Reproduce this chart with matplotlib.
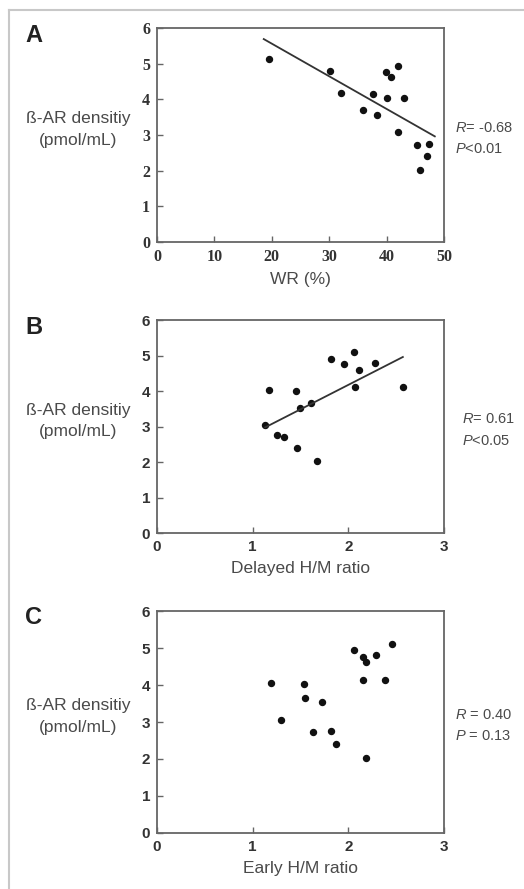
import numpy as np
import matplotlib
matplotlib.use("Agg")
import matplotlib.pyplot as plt
from matplotlib.lines import Line2D

plt.rcParams["font.family"] = ["Liberation Sans", "DejaVu Sans"]
plt.rcParams["mathtext.fontset"] = "custom"
plt.rcParams["mathtext.it"] = "Liberation Sans:italic"
plt.rcParams["mathtext.rm"] = "Liberation Sans"

# panel A: washout rate vs beta-AR density
wr = [19.6, 30.2, 32.1, 35.9, 37.6, 38.3, 39.9, 40.0, 40.8, 42.0, 42.0, 43.0, 45.3, 45.8, 47.1, 47.4]
dens_a = [5.12, 4.80, 4.17, 3.69, 4.14, 3.55, 4.76, 4.04, 4.62, 4.94, 3.07, 4.04, 2.73, 2.03, 2.42, 2.76]

# panel B: delayed H/M ratio
delayed_hm = [1.13, 1.17, 1.25, 1.33, 1.45, 1.46, 1.50, 1.61, 1.67, 1.82, 1.96, 2.06, 2.07, 2.11, 2.28, 2.57]
dens_b = [3.03, 4.02, 2.76, 2.70, 4.00, 2.40, 3.53, 3.66, 2.03, 4.91, 4.75, 5.10, 4.10, 4.60, 4.79, 4.12]

# panel C: early H/M ratio
early_hm = [1.19, 1.30, 1.54, 1.55, 1.63, 1.72, 1.82, 1.87, 2.06, 2.15, 2.15, 2.19, 2.19, 2.29, 2.38, 2.46]
dens_c = [4.05, 3.06, 4.04, 3.66, 2.72, 3.54, 2.76, 2.41, 4.94, 4.13, 4.75, 4.61, 2.02, 4.81, 4.14, 5.12]

letters = ["A", "B", "C"]
xlabels = ["WR (%)", "Delayed H/M ratio", "Early H/M ratio"]
stats = [(r"$\it{R}$= -0.68", r"$\it{P}$<0.01"),
         (r"$\it{R}$= 0.61", r"$\it{P}$<0.05"),
         (r"$\it{R}$ = 0.40", r"$\it{P}$ = 0.13")]
xlims = [(0, 50), (0, 3), (0, 3)]
xticks = [[0, 10, 20, 30, 40, 50], [0, 1, 2, 3], [0, 1, 2, 3]]
fit_line = [True, True, False]
line_pad = [1.0, 0.0, 0.0]

xs = [wr, delayed_hm, early_hm]
ys = [dens_a, dens_b, dens_c]

fig = plt.figure(figsize=(5.24, 8.89), dpi=100)
fig.patch.set_facecolor("white")

# frame lines around figure (left and top)
fig.add_artist(Line2D([9/524, 9/524], [0, 1 - 10/889], color="#c8c8c8", lw=1.5))
fig.add_artist(Line2D([9/524, 1], [1 - 10/889, 1 - 10/889], color="#c8c8c8", lw=1.5))

# axes rectangles [left, bottom, width, height]
rects = [[0.2996, 0.7278, 0.5477, 0.2407],
         [0.2996, 0.4004, 0.5477, 0.2396],
         [0.2996, 0.0630, 0.5477, 0.2497]]

txt = "#4a4a4a"
for i in range(3):
    ax = fig.add_axes(rects[i])
    ax.plot(xs[i], ys[i], "o", color="#111111", ms=4.3, mec="#111111")
    if fit_line[i]:
        k, b = np.polyfit(xs[i], ys[i], 1)
        xx = np.array([min(xs[i]) - line_pad[i], max(xs[i]) + line_pad[i]])
        ax.plot(xx, k * xx + b, color="#333333", lw=1.3)
    ax.set_xlim(*xlims[i])
    ax.set_ylim(0, 6)
    ax.set_xticks(xticks[i])
    ax.set_yticks(range(7))
    for s in ax.spines.values():
        s.set_color("#666666")
        s.set_linewidth(1.3)
    ax.tick_params(direction="in", length=4, width=1, colors="#666666",
                   labelcolor="#333333", pad=5)
    if i == 0:
        for lab in ax.get_xticklabels() + ax.get_yticklabels():
            lab.set_fontfamily("Liberation Serif")
            lab.set_fontweight("bold")
            lab.set_fontsize(11.5)
    else:
        for lab in ax.get_xticklabels() + ax.get_yticklabels():
            lab.set_fontweight("bold")
            lab.set_fontsize(11)
    ax.set_xlabel(xlabels[i], fontsize=12.5, color=txt, labelpad=5)

    top_px = [28, 320, 611][i]
    bot_px = [242, 533, 833][i]
    mid = 1 - (top_px + bot_px) / 2 / 889
    fig.text(25/524, 1 - (top_px + 7) / 889, letters[i], fontsize=17,
             fontweight="bold", color="#222222", va="center", ha="left")
    fig.text(78/524, mid + 0.018, "ß-AR densitiy", fontsize=12.5, color=txt,
             ha="center", va="center")
    fig.text(78/524, mid - 0.006, "(pmol/mL)", fontsize=12.5, color=txt,
             ha="center", va="center")
    sx = [455, 462, 455][i] / 524
    fig.text(sx, mid + 0.008, stats[i][0], fontsize=10.5, color=txt, ha="left", va="center")
    fig.text(sx, mid - 0.016, stats[i][1], fontsize=10.5, color=txt, ha="left", va="center")

fig.savefig("out.png", dpi=100, facecolor="white")
